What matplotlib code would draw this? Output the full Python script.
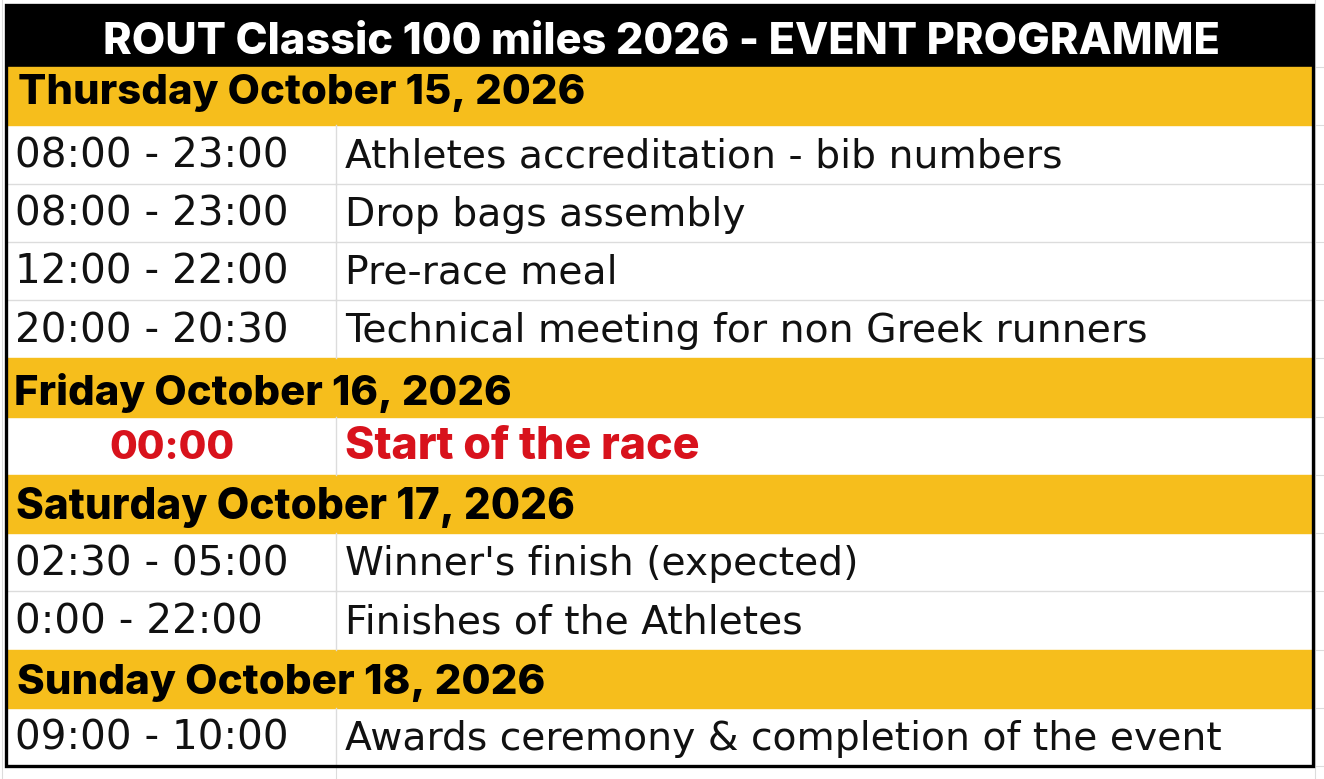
import matplotlib
matplotlib.use("Agg")
import matplotlib.pyplot as plt
from matplotlib.patches import Rectangle

# ---------------- data ----------------
TITLE = "ROUT Classic 100 miles 2026 - EVENT PROGRAMME"
days = ["Thursday October 15, 2026", "Friday October 16, 2026",
        "Saturday October 17, 2026", "Sunday October 18, 2026"]
day_times = [
    ["08:00 - 23:00", "08:00 - 23:00", "12:00 - 22:00", "20:00 - 20:30"],
    ["00:00"],
    ["02:30 - 05:00", "0:00 - 22:00"],
    ["09:00 - 10:00"],
]
day_events = [
    ["Athletes accreditation - bib numbers", "Drop bags assembly",
     "Pre-race meal", "Technical meeting for non Greek runners"],
    ["Start of the race"],
    ["Winner's finish (expected)", "Finishes of the Athletes"],
    ["Awards ceremony & completion of the event"],
]
highlight = [[False, False, False, False], [True], [False, False], [False]]

# ---------------- style ----------------
W, H = 1324, 779
YELLOW = "#f6be1c"
RED = "#d8121c"
GRID = "#dcdcdc"
BOLD_FAMILY = ["Inter", "DejaVu Sans"]
BOLD_W = 800

fig = plt.figure(figsize=(W / 100, H / 100), dpi=100)
ax = fig.add_axes([0, 0, 1, 1])
ax.set_xlim(0, W)
ax.set_ylim(H, 0)
ax.axis("off")
fig.canvas.draw()
renderer = fig.canvas.get_renderer()

def fit(t, target_w):
    bb = t.get_window_extent(renderer=renderer)
    t.set_fontsize(t.get_fontsize() * target_w / bb.width)

L, R, T, B = 6, 1313, 5, 766
HEAD_B = 67
n_rows = sum(1 + len(e) for e in day_events)
row_h = (B - HEAD_B) / n_rows
COL = 336

# outside spreadsheet gridlines
ax.plot([2, 2], [0, H], color=GRID, lw=0.8, zorder=0)
ax.plot([COL, COL], [B, H], color=GRID, lw=0.8, zorder=0)
for k in range(n_rows + 1):
    y = HEAD_B + k * row_h
    ax.plot([R, W], [y, y], color=GRID, lw=0.8, zorder=0)
ax.plot([R + 2, R + 2], [0, H], color=GRID, lw=0.8, zorder=0)

# header
ax.add_patch(Rectangle((L, T), R - L, HEAD_B - T, color="black", zorder=1))
tt = ax.text((103 + 1220) / 2, 54, TITLE, ha="center", va="baseline",
             color="white", fontsize=30, fontweight=BOLD_W,
             family=BOLD_FAMILY, zorder=3)
fit(tt, 1117)

day_offsets = [37, 47, 44, 45]
day_widths = [567, 498, 559, 528]
day_x = [18, 14, 16, 17]

r = 0
for d, day in enumerate(days):
    y0 = HEAD_B + r * row_h
    ax.add_patch(Rectangle((L, y0), R - L, row_h, color=YELLOW, zorder=1))
    td = ax.text(day_x[d], y0 + day_offsets[d], day, ha="left", va="baseline",
                 color="black", fontsize=28, fontweight=BOLD_W,
                 family=BOLD_FAMILY, zorder=3)
    fit(td, day_widths[d])
    r += 1
    for i, (tm, ev) in enumerate(zip(day_times[d], day_events[d])):
        y0 = HEAD_B + r * row_h
        y1 = y0 + row_h
        ax.plot([COL, COL], [y0, y1], color=GRID, lw=1.0, zorder=2)
        if i > 0:
            ax.plot([L, R], [y0, y0], color=GRID, lw=1.0, zorder=2)
        base = y0 + 42
        if highlight[d][i]:
            t1 = ax.text(172, base, tm, ha="center", va="baseline", color=RED,
                         fontsize=28, fontweight=BOLD_W, family=BOLD_FAMILY,
                         zorder=3)
            fit(t1, 125)
            t2 = ax.text(345, base, ev, ha="left", va="baseline", color=RED,
                         fontsize=28, fontweight=BOLD_W, family=BOLD_FAMILY,
                         zorder=3)
            fit(t2, 355)
        else:
            ax.text(15, base, tm, ha="left", va="baseline", color="#111111",
                    fontsize=29.2, family="DejaVu Sans", zorder=3)
            ax.text(345, base, ev, ha="left", va="baseline", color="#111111",
                    fontsize=28.3, family="DejaVu Sans", zorder=3)
        r += 1

# outer border
ax.add_patch(Rectangle((L, T), R - L, B - T, fill=False, edgecolor="black",
                       lw=2.4, zorder=4))

fig.savefig("out.png", dpi=100, facecolor="white")
